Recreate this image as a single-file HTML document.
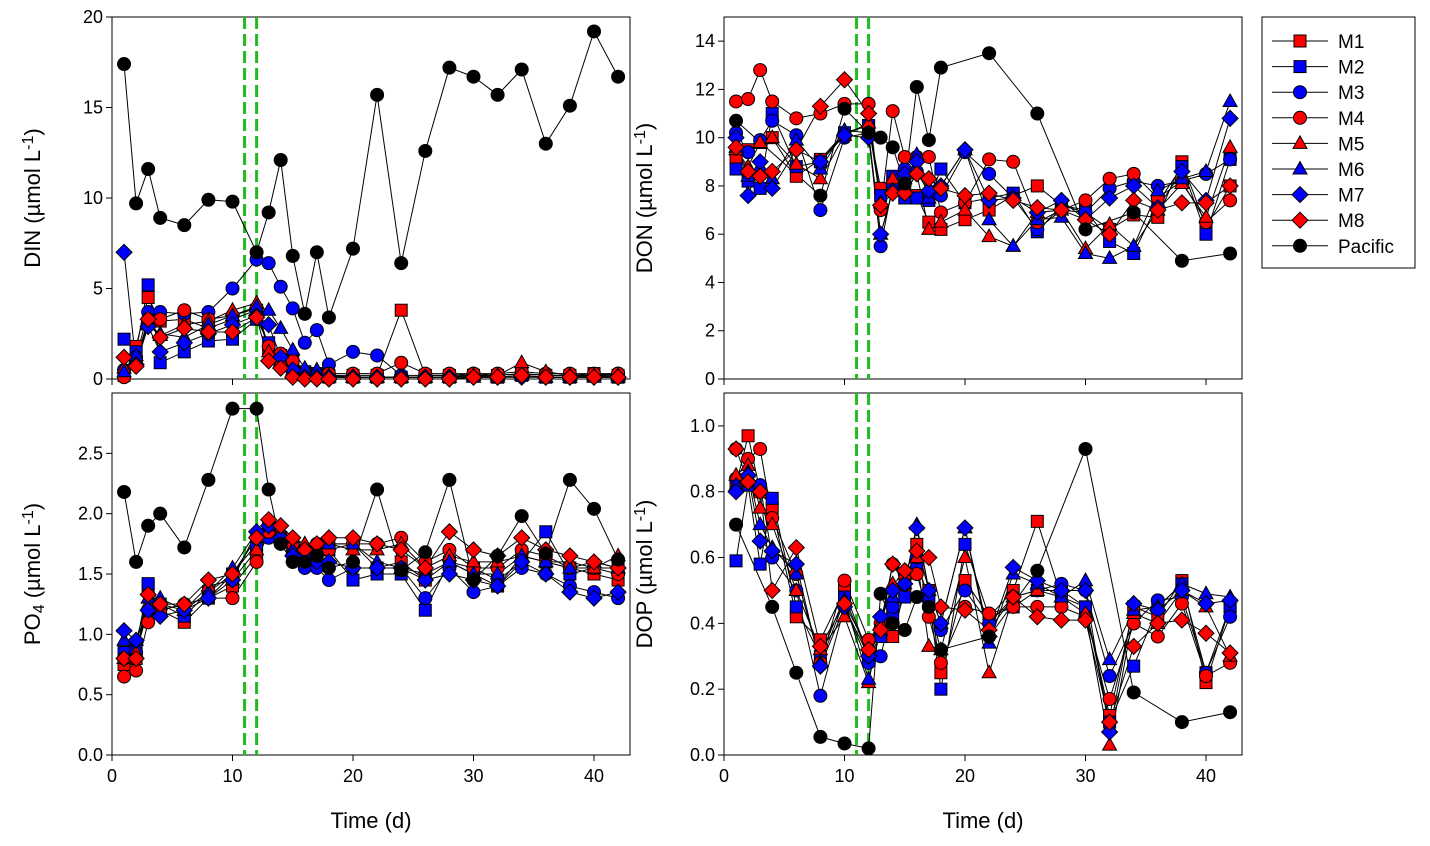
<!DOCTYPE html>
<html><head><meta charset="utf-8"><style>
body{margin:0;background:#fff;width:1430px;height:841px;overflow:hidden}
svg{font-family:"Liberation Sans",Arial,sans-serif}
</style></head><body>
<svg id="chart" width="1430" height="841" viewBox="0 0 1430 841" xmlns="http://www.w3.org/2000/svg"></svg>
<script>
const times=[1,2,3,4,6,8,10,12,13,14,15,16,17,18,20,22,24,26,28,30,32,34,36,38,40,42];
const seriesNames=["M1","M2","M3","M4","M5","M6","M7","M8","Pacific"];
const din_M1=[0.2,1.8,4.5,3.2,3.3,2.8,3.3,3.8,1.6,1.0,0.5,0.2,0.2,0.2,0.2,0.2,3.8,0.2,0.2,0.2,0.2,0.3,0.2,0.2,0.3,0.2];
const din_M2=[2.2,1.5,5.2,0.9,1.5,2.1,2.2,3.3,2.0,1.3,1.0,0.4,0.3,0.1,0.1,0.1,0.1,0.1,0.1,0.2,0.1,0.2,0.1,0.1,0.2,0.1];
const din_M3=[0.5,1.2,3.7,3.7,3.6,3.7,5.0,6.6,6.4,5.1,3.9,2.0,2.7,0.8,1.5,1.3,0.2,0.2,0.2,0.3,0.2,0.3,0.2,0.2,0.2,0.3];
const din_M4=[0.1,1.0,3.3,3.3,3.8,3.3,3.5,3.9,1.8,1.4,1.0,0.4,0.3,0.3,0.3,0.3,0.9,0.3,0.3,0.3,0.3,0.4,0.3,0.3,0.3,0.3];
const din_M5=[0.6,1.0,3.0,2.4,3.0,3.2,3.8,4.2,1.5,1.0,0.5,0.2,0.2,0.1,0.1,0.1,0.1,0.1,0.1,0.2,0.2,0.9,0.4,0.2,0.2,0.2];
const din_M6=[0.4,1.3,3.0,2.5,2.3,3.0,3.5,4.0,3.8,2.8,1.6,0.6,0.5,0.2,0.1,0.1,0.1,0.1,0.1,0.1,0.1,0.2,0.1,0.1,0.1,0.1];
const din_M7=[7.0,0.8,2.9,1.5,2.0,2.5,3.0,3.5,3.0,1.2,0.5,0.1,0.1,0.1,0.1,0.1,0.1,0.1,0.1,0.1,0.1,0.1,0.1,0.1,0.1,0.1];
const din_M8=[1.2,0.7,3.3,2.3,2.8,2.6,2.6,3.4,1.0,0.6,0.1,0.0,0.0,0.0,0.0,0.0,0.0,0.0,0.0,0.1,0.1,0.2,0.1,0.1,0.1,0.1];
const din_P=[17.4,9.7,11.6,8.9,8.5,9.9,9.8,7.0,9.2,12.1,6.8,3.6,7.0,3.4,7.2,15.7,6.4,12.6,17.2,16.7,15.7,17.1,13.0,15.1,19.2,16.7];
const don_M1=[9.1,9.5,9.8,10.0,8.4,9.1,10.2,10.5,7.9,8.0,8.0,7.6,6.5,6.2,6.6,7.0,7.6,8.0,7.2,6.9,6.2,6.8,6.7,9.0,6.3,8.0];
const don_M2=[8.7,8.2,7.9,11.0,8.8,9.0,10.2,10.5,7.6,8.4,7.5,7.5,7.4,8.7,7.3,7.5,7.7,6.1,7.2,7.0,5.7,5.2,7.3,8.8,6.0,9.1];
const don_M3=[10.2,9.4,9.9,10.7,10.1,7.0,10.0,10.2,5.5,8.0,8.7,8.6,7.7,7.6,9.4,8.5,7.5,6.2,7.0,6.9,7.9,8.2,8.0,8.2,8.5,9.1];
const don_M4=[11.5,11.6,12.8,11.5,10.8,11.0,11.4,11.4,7.0,11.1,9.2,9.2,9.2,6.9,7.3,9.1,9.0,6.5,7.0,7.4,8.3,8.5,7.5,8.2,6.5,7.4];
const don_M5=[9.5,8.8,9.8,10.0,8.9,8.3,10.1,10.6,7.3,8.3,8.3,8.5,6.2,6.5,7.0,5.9,5.5,6.9,7.0,5.4,6.4,5.5,7.0,8.1,6.7,9.6];
const don_M6=[9.6,8.4,8.8,8.3,9.9,8.7,10.3,10.2,6.0,7.8,7.8,9.3,7.5,8.0,9.5,6.6,5.5,6.6,6.7,5.2,5.0,5.5,7.8,8.3,8.6,11.5];
const don_M7=[10.0,7.6,9.0,7.9,9.5,9.0,10.1,10.0,6.0,7.8,8.5,9.0,7.8,8.0,9.5,7.4,7.5,6.9,7.4,6.6,7.5,8.0,7.1,8.6,7.4,10.8];
const don_M8=[9.6,8.6,8.4,8.6,9.5,11.3,12.4,11.0,7.2,7.7,7.7,8.5,8.3,7.9,7.6,7.7,7.4,7.1,7.0,6.6,6.0,7.4,7.0,7.3,7.3,8.0];
const don_PT=[1,8,10,12,13,14,15,16,17,18,22,26,30,34,38,42];
const don_P=[10.7,7.6,11.2,10.2,10.0,9.6,8.1,12.1,9.9,12.9,13.5,11.0,6.2,6.9,4.9,5.2];
const po4_M1=[0.75,0.8,1.4,1.2,1.1,1.3,1.4,1.65,1.85,1.8,1.7,1.6,1.7,1.75,1.75,1.55,1.6,1.45,1.6,1.5,1.4,1.65,1.6,1.55,1.5,1.45];
const po4_M2=[0.85,0.9,1.42,1.25,1.15,1.35,1.5,1.75,1.9,1.8,1.75,1.65,1.6,1.7,1.45,1.5,1.5,1.2,1.6,1.55,1.45,1.6,1.85,1.5,1.55,1.55];
const po4_M3=[0.8,0.85,1.2,1.2,1.25,1.3,1.5,1.8,1.8,1.75,1.6,1.55,1.55,1.45,1.55,1.55,1.55,1.3,1.55,1.35,1.4,1.55,1.5,1.4,1.35,1.3];
const po4_M4=[0.65,0.7,1.1,1.2,1.25,1.3,1.3,1.6,1.85,1.8,1.75,1.7,1.75,1.7,1.75,1.75,1.8,1.6,1.7,1.55,1.55,1.7,1.65,1.55,1.55,1.5];
const po4_M5=[0.8,0.85,1.25,1.25,1.2,1.4,1.45,1.7,1.9,1.85,1.8,1.75,1.7,1.75,1.7,1.7,1.75,1.55,1.65,1.6,1.6,1.65,1.6,1.6,1.55,1.65];
const po4_M6=[0.95,0.95,1.3,1.3,1.2,1.35,1.55,1.85,1.9,1.8,1.7,1.7,1.65,1.75,1.75,1.6,1.55,1.5,1.6,1.5,1.5,1.65,1.6,1.55,1.6,1.55];
const po4_M7=[1.03,0.95,1.2,1.15,1.2,1.3,1.45,1.85,1.9,1.8,1.65,1.65,1.6,1.6,1.55,1.55,1.55,1.45,1.5,1.45,1.4,1.6,1.5,1.35,1.3,1.35];
const po4_M8=[0.8,0.8,1.33,1.25,1.25,1.45,1.5,1.8,1.95,1.9,1.8,1.7,1.75,1.8,1.8,1.75,1.7,1.55,1.85,1.7,1.65,1.8,1.7,1.65,1.6,1.55];
const po4_P=[2.18,1.6,1.9,2.0,1.72,2.28,2.87,2.87,2.2,1.75,1.6,1.6,1.65,1.55,1.6,2.2,1.53,1.68,2.28,1.45,1.65,1.98,1.67,2.28,2.04,1.62];
const dop_M1=[0.82,0.97,0.8,0.75,0.42,0.35,0.5,0.3,0.38,0.36,0.5,0.64,0.5,0.25,0.53,0.42,0.5,0.71,0.48,0.45,0.12,0.45,0.42,0.53,0.22,0.45];
const dop_M2=[0.59,0.82,0.58,0.78,0.45,0.30,0.48,0.3,0.36,0.42,0.48,0.58,0.48,0.2,0.64,0.42,0.45,0.5,0.5,0.45,0.1,0.27,0.45,0.52,0.25,0.45];
const dop_M3=[0.84,0.83,0.82,0.6,0.5,0.18,0.45,0.28,0.3,0.45,0.55,0.6,0.45,0.38,0.5,0.4,0.48,0.5,0.52,0.5,0.24,0.4,0.47,0.48,0.25,0.42];
const dop_M4=[0.93,0.9,0.93,0.72,0.55,0.28,0.53,0.35,0.4,0.58,0.52,0.55,0.42,0.28,0.45,0.43,0.45,0.45,0.45,0.42,0.17,0.4,0.36,0.46,0.24,0.28];
const dop_M5=[0.85,0.88,0.75,0.7,0.5,0.32,0.42,0.22,0.4,0.52,0.55,0.6,0.33,0.32,0.6,0.25,0.48,0.5,0.48,0.43,0.03,0.43,0.4,0.5,0.45,0.3];
const dop_M6=[0.82,0.86,0.7,0.63,0.55,0.28,0.47,0.23,0.38,0.48,0.52,0.7,0.5,0.4,0.69,0.34,0.55,0.52,0.48,0.53,0.29,0.44,0.45,0.52,0.49,0.48];
const dop_M7=[0.8,0.85,0.65,0.62,0.58,0.27,0.45,0.3,0.42,0.5,0.52,0.69,0.5,0.4,0.69,0.36,0.57,0.53,0.5,0.5,0.07,0.46,0.44,0.5,0.46,0.47];
const dop_M8=[0.93,0.83,0.8,0.5,0.63,0.33,0.46,0.32,0.38,0.58,0.56,0.62,0.6,0.45,0.44,0.38,0.48,0.42,0.41,0.41,0.1,0.33,0.4,0.41,0.37,0.31];
const dop_PT=[1,4,6,8,10,12,13,14,15,16,17,18,22,26,30,34,38,42];
const dop_P=[0.70,0.45,0.25,0.055,0.035,0.02,0.49,0.40,0.38,0.48,0.45,0.32,0.36,0.56,0.93,0.19,0.10,0.13];
const xTicks=[0,10,20,30,40];
const dinTicks=[0,5,10,15,20];
const donTicks=[0,2,4,6,8,10,12,14];
const po4Ticks=[0,0.5,1.0,1.5,2.0,2.5];
const dopTicks=[0,0.2,0.4,0.6,0.8,1.0];
const eventDays=[11,12];

const NS="http://www.w3.org/2000/svg";
const svg=document.getElementById('chart');
function el(tag,attrs,parent){const e=document.createElementNS(NS,tag);for(const k in attrs)e.setAttribute(k,attrs[k]);(parent||svg).appendChild(e);return e;}
const styles=[["#ff0000","square"],["#0000ff","square"],["#0000ff","circle"],["#ff0000","circle"],["#ff0000","tri"],["#0000ff","tri"],["#0000ff","diamond"],["#ff0000","diamond"],["#000000","circle"]];
function marker(g,x,y,s){const [c,sh]=s;const a={fill:c,stroke:"#000","stroke-width":1};let m;
 if(sh==="square")m=el('rect',Object.assign({x:x-6,y:y-6,width:12,height:12},a),g);
 else if(sh==="circle")m=el('circle',Object.assign({cx:x,cy:y,r:6.5},a),g);
 else if(sh==="tri")m=el('polygon',Object.assign({points:`${x},${y-7.5} ${x+7},${y+5} ${x-7},${y+5}`},a),g);
 else m=el('polygon',Object.assign({points:`${x},${y-8} ${x+8},${y} ${x},${y+8} ${x-8},${y}`},a),g);
 return m;}
function panel(name,box,ymax,yticks,fmt,series,xlabels,ylab,sub){
 const [L,T,R,B]=box;
 const g=el('g',{});
 
 
 const xs=v=>L+v*12.05, ys=v=>B-(v/ymax)*(B-T);
 el('rect',{x:L,y:T,width:R-L,height:B-T,fill:"none",stroke:"#000","stroke-width":1},g);
 yticks.forEach(t=>{el('line',{x1:L-6,x2:L,y1:ys(t),y2:ys(t),stroke:"#000"},g);
  const tx=el('text',{x:L-9,y:ys(t)+6,"text-anchor":"end","font-size":18},g);tx.textContent=fmt(t);});
 xTicks.forEach(t=>{el('line',{x1:xs(t),x2:xs(t),y1:B,y2:B+6,stroke:"#000"},g);
  if(xlabels){const tx=el('text',{x:xs(t),y:B+27,"text-anchor":"middle","font-size":18},g);tx.textContent=t;}});
 eventDays.forEach(d=>{const ln=el('line',{x1:xs(d),x2:xs(d),y1:T,y2:B,stroke:"#22bb22","stroke-width":3,"stroke-dasharray":"12,5"},g);
  
  });
 series.forEach((s,i)=>{const [tt,vv]=s;const sg=el('g',{},g);
  
  
  el('polyline',{points:tt.map((t,j)=>xs(t)+','+ys(vv[j])).join(' '),fill:"none",stroke:"#000","stroke-width":1},sg);});
 series.forEach((s,i)=>{const [tt,vv]=s;tt.forEach((t,j)=>{const m=marker(g,xs(t),ys(vv[j]),styles[i]);
  
  });});
 const cy=(T+B)/2, lx=L-72;
 const yl=el('text',{x:lx,y:cy,"text-anchor":"middle","font-size":22,transform:`rotate(-90 ${lx} ${cy})`},g);
 
 
 let h=ylab[0];
 if(sub)h+=`<tspan font-size="16" baseline-shift="-25%">${sub}</tspan>`;
 h+=` (µmol L<tspan font-size="16" baseline-shift="45%">-1</tspan>)`;
 yl.innerHTML=h;
 if(xlabels){const xl=el('text',{x:(L+R)/2,y:B+73,"text-anchor":"middle","font-size":22},g);xl.textContent="Time (d)";
  
  }
}
const f0=t=>String(t), f1=t=>t.toFixed(1);
panel('din',[112,17,630,379],20,dinTicks,f0,[[times,din_M1],[times,din_M2],[times,din_M3],[times,din_M4],[times,din_M5],[times,din_M6],[times,din_M7],[times,din_M8],[times,din_P]],false,["DIN"],null);
panel('don',[724,17,1242,379],15,donTicks,f0,[[times,don_M1],[times,don_M2],[times,don_M3],[times,don_M4],[times,don_M5],[times,don_M6],[times,don_M7],[times,don_M8],[don_PT,don_P]],false,["DON"],null);
panel('po4',[112,393,630,755],3,po4Ticks,f1,[[times,po4_M1],[times,po4_M2],[times,po4_M3],[times,po4_M4],[times,po4_M5],[times,po4_M6],[times,po4_M7],[times,po4_M8],[times,po4_P]],true,["PO"],"4");
panel('dop',[724,393,1242,755],1.1,dopTicks,f1,[[times,dop_M1],[times,dop_M2],[times,dop_M3],[times,dop_M4],[times,dop_M5],[times,dop_M6],[times,dop_M7],[times,dop_M8],[dop_PT,dop_P]],true,["DOP"],null);
const lg=el('g',{});


el('rect',{x:1262,y:17,width:153,height:251,fill:"#fff",stroke:"#000"},lg);
seriesNames.forEach((n,i)=>{const y=41+i*25.6;const eg=el('g',{},lg);
 
 
 el('line',{x1:1272,x2:1328,y1:y,y2:y,stroke:"#000"},eg);
 marker(eg,1300,y,styles[i]);
 const t=el('text',{x:1338,y:y+7,"font-size":19},eg);t.textContent=n;});
</script>
</body></html>
